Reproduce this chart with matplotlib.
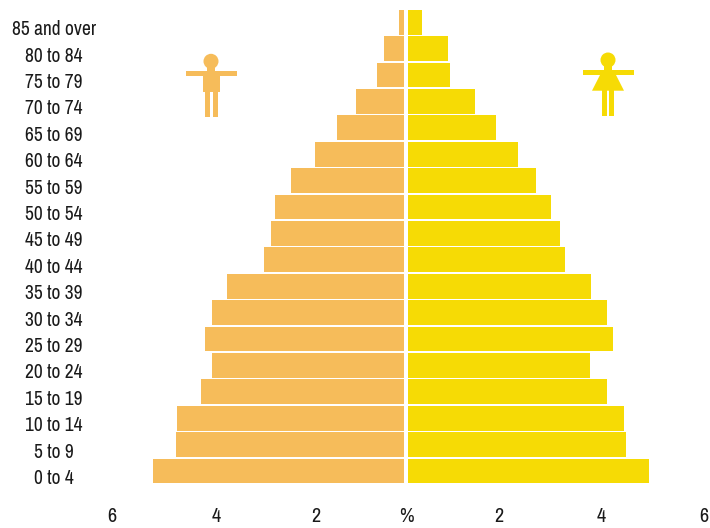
import matplotlib
matplotlib.use("Agg")
import matplotlib.pyplot as plt
from matplotlib.patches import Circle, Rectangle, Polygon
from matplotlib.transforms import ScaledTranslation

plt.rcParams['font.family'] = ['Archivo Narrow', 'Roboto Condensed', 'Liberation Sans', 'DejaVu Sans']

age_groups = ["0 to 4", "5 to 9", "10 to 14", "15 to 19", "20 to 24", "25 to 29",
              "30 to 34", "35 to 39", "40 to 44", "45 to 49", "50 to 54", "55 to 59",
              "60 to 64", "65 to 69", "70 to 74", "75 to 79", "80 to 84", "85 and over"]
male = [4.90, 4.45, 4.43, 3.96, 3.75, 3.89, 3.75, 3.46, 2.74, 2.60, 2.52, 2.21,
        1.74, 1.31, 0.94, 0.53, 0.39, 0.10]
female = [4.71, 4.26, 4.22, 3.89, 3.56, 4.01, 3.89, 3.57, 3.06, 2.97, 2.80, 2.50,
          2.15, 1.72, 1.31, 0.82, 0.78, 0.27]
tick_labels = ["6", "4", "2", "%", "2", "4", "6"]
tick_pixels = [112, 216, 316, 406, 499, 601, 704]

MALE_C = "#F6BC5A"
FEMALE_C = "#F6DB05"
S = 51.2

fig = plt.figure(figsize=(7.10, 5.28), dpi=100)
ax = fig.add_axes([108/710, 33/528, 602/710, 495/528])
ax.set_xlim((108-406)/S, (710-406)/S)
ax.set_ylim(-0.909, 17.84)
ypos = list(range(len(age_groups)))
gap = 2/S
ax.barh(ypos, [-m for m in male], left=-gap, height=0.945, color=MALE_C, linewidth=0)
ax.barh(ypos, female, left=gap, height=0.945, color=FEMALE_C, linewidth=0)
for s in ax.spines.values():
    s.set_visible(False)
ax.set_yticks(ypos)
ax.set_yticklabels(age_groups, fontsize=14, ha='center', color="#1a1a1a")
ax.tick_params(axis='y', length=0, pad=39)
shift = ScaledTranslation(0, -5.5/100, fig.dpi_scale_trans)
for lab in ax.get_yticklabels():
    lab.set_transform(lab.get_transform() + shift)
ax.set_xticks([(p-406)/S for p in tick_pixels])
ax.set_xticklabels(tick_labels, fontsize=14.5, color="#1a1a1a")
ax.tick_params(axis='x', length=0, pad=8.5)

ov = fig.add_axes([0, 0, 1, 1], facecolor='none')
ov.set_xlim(0, 710)
ov.set_ylim(528, 0)
ov.axis('off')

def rect(x0, x1, y0, y1, c):
    ov.add_patch(Rectangle((x0, y0), x1-x0, y1-y0, color=c, lw=0))

# male icon
ov.add_patch(Circle((211, 61.3), 7.5, color=MALE_C, lw=0))
rect(207, 215, 66, 72, MALE_C)
rect(186, 237, 71, 76, MALE_C)
rect(203, 220, 74, 92, MALE_C)
rect(205, 210, 92, 117, MALE_C)
rect(212.5, 217.5, 92, 117, MALE_C)

# female icon
ov.add_patch(Circle((608, 60), 7.5, color=FEMALE_C, lw=0))
rect(583, 634, 70, 75, FEMALE_C)
ov.add_patch(Polygon([(604, 66), (612, 66), (612, 70), (616, 75), (624, 90.7),
                      (592, 90.7), (600, 75), (604, 70)],
                     closed=True, color=FEMALE_C, lw=0))
rect(602, 607, 90, 116, FEMALE_C)
rect(609, 614, 90, 116, FEMALE_C)

fig.savefig("out.png", dpi=100)
